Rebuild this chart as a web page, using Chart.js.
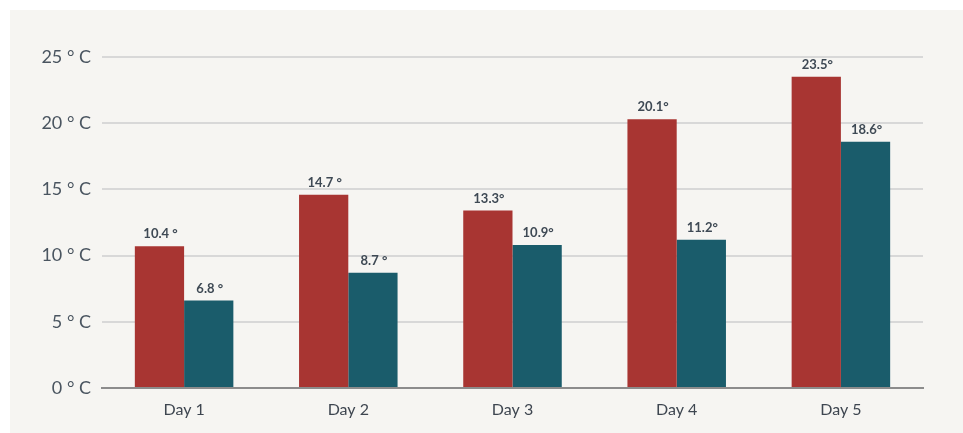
<!DOCTYPE html>
<html>
<head>
<meta charset="utf-8">
<script src="https://cdn.jsdelivr.net/npm/chart.js@4.4.1/dist/chart.umd.min.js"></script>
<style>
  html, body { margin: 0; padding: 0; background: #ffffff; }
  #wrap { position: absolute; left: 10px; top: 10px; width: 953px; height: 423px; background: #f6f5f2; }
  canvas { display: block; }
</style>
</head>
<body>
<div id="wrap"><canvas id="c" width="953" height="423"></canvas></div>
<script>
const categories = ["Day 1", "Day 2", "Day 3", "Day 4", "Day 5"];
const seriesA = [10.7, 14.6, 13.4, 20.3, 23.5];
const seriesB = [6.6, 8.7, 10.8, 11.2, 18.6];
const labelsA = ["10.4 °", "14.7 °", "13.3°", "20.1°", "23.5°"];
const labelsB = ["6.8 °", "8.7 °", "10.9°", "11.2°", "18.6°"];
const yTicks = [0, 5, 10, 15, 20, 25];
const yTickLabels = ["0 ° C", "5 ° C", "10 ° C", "15 ° C", "20 ° C", "25 ° C"];

const valueLabels = {
  id: "valueLabels",
  afterDatasetsDraw(chart) {
    const ctx = chart.ctx;
    const texts = [labelsA, labelsB];
    ctx.save();
    ctx.font = "bold 13px Lato";
    ctx.fillStyle = "#3e4954";
    ctx.textAlign = "center";
    ctx.textBaseline = "alphabetic";
    chart.data.datasets.forEach((ds, i) => {
      chart.getDatasetMeta(i).data.forEach((bar, j) => {
        ctx.fillText(texts[i][j], bar.x + 1, bar.y - 8);
      });
    });
    ctx.restore();
  }
};

new Chart(document.getElementById("c"), {
  type: "bar",
  data: {
    labels: categories,
    datasets: [
      { data: seriesA, backgroundColor: "#a83532", categoryPercentage: 0.6, barPercentage: 1.0 },
      { data: seriesB, backgroundColor: "#1a5c6b", categoryPercentage: 0.6, barPercentage: 1.0 }
    ]
  },
  options: {
    responsive: false,
    animation: false,
    layout: { padding: { left: 0, right: 40, top: 47, bottom: 0 } },
    plugins: { legend: { display: false }, tooltip: { enabled: false } },
    scales: {
      x: {
        grid: { display: false, drawTicks: false },
        border: { display: true, color: "#8c8c8c", width: 2 },
        ticks: { color: "#3e4650", font: { family: "Lato", size: 16 }, padding: 12 },
        afterFit(scale) { scale.height = 45; }
      },
      y: {
        min: 0, max: 25,
        afterBuildTicks(scale) { scale.ticks = yTicks.map(v => ({ value: v })); },
        grid: {
          drawTicks: false,
          lineWidth: 2,
          color: (c) => (c.tick && c.tick.value === 0) ? "rgba(0,0,0,0)" : "#d8d8d8"
        },
        border: { display: false },
        ticks: {
          color: "#4a5560",
          font: { family: "Lato", size: 18 },
          padding: 11,
          callback: (v, i) => yTickLabels[i]
        },
        afterFit(scale) { scale.width = 92; }
      }
    }
  },
  plugins: [valueLabels]
});
</script>
</body>
</html>
